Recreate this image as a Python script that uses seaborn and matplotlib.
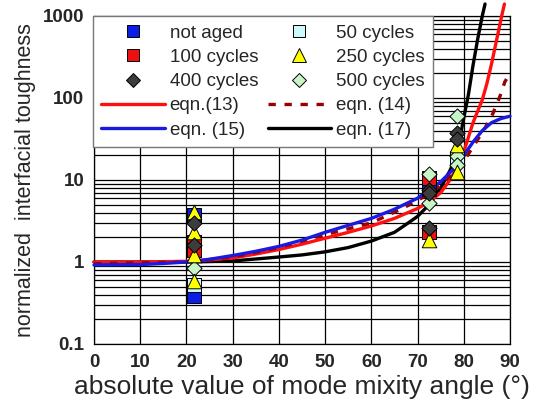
import matplotlib
matplotlib.use("Agg")
import matplotlib.pyplot as plt
from matplotlib.lines import Line2D
from matplotlib.ticker import LogLocator, FixedLocator, NullFormatter
import seaborn as sns

# Measured toughness, grouped by ageing condition
psi_not_aged = [21.7, 21.7, 72.5]
g_not_aged = [0.38, 3.7, 7.8]

psi_50 = [21.7, 78.6]
g_50 = [0.53, 18.5]

psi_100 = [21.7, 21.7, 72.5, 72.5]
g_100 = [1.77, 1.40, 10.5, 2.34]

psi_250 = [21.7, 21.7, 21.7, 21.7, 72.5, 78.6, 78.6]
g_250 = [4.1, 2.34, 1.22, 0.58, 1.85, 12.6, 27.0]

psi_400 = [21.7, 21.7, 72.5, 72.5, 72.5, 78.6, 78.6]
g_400 = [3.0, 1.61, 7.6, 6.9, 2.57, 37.7, 32.0]

psi_500 = [21.7, 72.5, 72.5, 78.6, 78.6, 78.6]
g_500 = [0.84, 11.7, 5.2, 60.0, 19.8, 15.2]

# Model curves
psi_eq13 = [0, 10, 20, 25, 30, 35, 40, 45, 50, 55, 60, 65, 70, 72.5, 75, 77,
            78.5, 80, 82, 84, 85, 86, 86.8, 87.5, 88.2, 88.8]
g_eq13 = [1.0, 1.0, 1.02, 1.06, 1.12, 1.25, 1.42, 1.65, 1.95, 2.3, 2.75, 3.4,
          4.5, 5.4, 7.0, 10.0, 14.0, 22.0, 50.0, 95.0, 150.0, 260.0, 424.0,
          650.0, 1000.0, 1400.0]

psi_eq14 = [0, 20, 30, 40, 50, 60, 66, 70, 75, 80, 84, 86, 87.8, 88.9, 90]
g_eq14 = [0.95, 1.0, 1.15, 1.5, 2.15, 3.0, 4.3, 5.6, 8.5, 17.0, 38.0, 59.0,
          104.0, 158.0, 200.0]

psi_eq15 = [0, 10, 15, 20, 25, 30, 35, 40, 45, 50, 55, 60, 65, 70, 72.5, 75,
            78, 80, 82, 84, 86, 88, 90]
g_eq15 = [0.92, 0.93, 0.96, 1.0, 1.08, 1.2, 1.35, 1.55, 1.85, 2.3, 2.8, 3.4,
          4.4, 6.0, 7.6, 9.5, 14.0, 20.0, 29.0, 40.0, 50.0, 56.0, 60.0]

psi_eq17 = [0, 10, 20, 30, 40, 45, 50, 55, 60, 65, 68, 70, 72.5, 75, 77, 78.5,
            79.8, 81, 82, 83, 84, 84.6]
g_eq17 = [1.0, 1.0, 1.0, 1.03, 1.15, 1.22, 1.33, 1.5, 1.8, 2.3, 3.0, 3.6, 5.0,
          8.0, 13.0, 20.0, 50.0, 110.0, 250.0, 520.0, 1000.0, 1400.0]

x_ticks = [0, 10, 20, 30, 40, 50, 60, 70, 80, 90]
y_ticks = [0.1, 1, 10, 100, 1000]
y_tick_labels = ["0.1", "1", "10", "100", "1000"]

sns.set_theme(style="white")
plt.rcParams["font.family"] = ["Liberation Sans", "DejaVu Sans"]

fig = plt.figure(figsize=(5.43, 4.20), dpi=100)
ax = fig.add_axes([94 / 543, 1 - 344 / 420, (510 - 94) / 543, (344 - 16) / 420])

ax.set_yscale("log")
ax.set_xlim(0, 90)
ax.set_ylim(0.1, 1000)

# grid: every 10 degrees, every minor log step
ax.xaxis.set_major_locator(FixedLocator(x_ticks))
ax.yaxis.set_major_locator(FixedLocator(y_ticks))
ax.yaxis.set_minor_locator(LogLocator(base=10, subs=range(2, 10), numticks=20))
ax.yaxis.set_minor_formatter(NullFormatter())
ax.set_xticklabels([str(t) for t in x_ticks])
ax.set_yticklabels(y_tick_labels)
ax.grid(True, which="major", axis="x", color="black", linewidth=0.9)
ax.grid(True, which="both", axis="y", color="black", linewidth=0.9)
ax.set_axisbelow(True)

ax.tick_params(axis="both", which="major", direction="out", length=5,
               width=0.9, color="black", labelsize=13.5, pad=2)
ax.tick_params(axis="y", which="minor", length=0)
for lab in ax.get_xticklabels() + ax.get_yticklabels():
    lab.set_fontweight("bold")
for sp in ax.spines.values():
    sp.set_color("black")
    sp.set_linewidth(0.9)

# model curves
line_kw = dict(linewidth=2.4, clip_on=False, zorder=3, ax=ax, legend=False)
sns.lineplot(x=psi_eq17, y=g_eq17, color="black", **line_kw)
sns.lineplot(x=psi_eq13, y=g_eq13, color="#ff1010", **line_kw)
sns.lineplot(x=psi_eq14, y=g_eq14, color="#9a0000", linestyle=(0, (2.2, 2.6)),
             **line_kw)
sns.lineplot(x=psi_eq15, y=g_eq15, color="#1a1ae0", **line_kw)

# measured points
pt_kw = dict(edgecolor="black", linewidth=0.7, zorder=5, ax=ax, legend=False)
sns.scatterplot(x=psi_not_aged, y=g_not_aged, marker="s", s=110,
                color="#0a1ee6", **pt_kw)
sns.scatterplot(x=psi_50, y=g_50, marker="s", s=110, color="#ccfafa", **pt_kw)
sns.scatterplot(x=psi_100, y=g_100, marker="s", s=110, color="#ee1010", **pt_kw)
sns.scatterplot(x=psi_500, y=g_500, marker="D", s=60, color="#c8f5c8", **pt_kw)
sns.scatterplot(x=psi_250, y=g_250, marker="^", s=110, color="#ffff00", **pt_kw)
sns.scatterplot(x=psi_400, y=g_400, marker="D", s=60, color="#3c3c3c", **pt_kw)

ax.set_xlabel("absolute value of mode mixity angle (°)", fontsize=19, labelpad=3)
ax.set_ylabel("normalized  interfacial toughness", fontsize=15.5, labelpad=5)

def mk(marker, face, ms):
    return Line2D([], [], linestyle="none", marker=marker, markersize=ms,
                  markerfacecolor=face, markeredgecolor="black",
                  markeredgewidth=0.7)

handles = [
    mk("s", "#0a1ee6", 9), mk("s", "#ee1010", 9), mk("D", "#3c3c3c", 7),
    Line2D([], [], color="#ff1010", linewidth=2.4),
    Line2D([], [], color="#1a1ae0", linewidth=2.4),
    mk("s", "#ccfafa", 9), mk("^", "#ffff00", 9.5), mk("D", "#c8f5c8", 7),
    Line2D([], [], color="#9a0000", linewidth=2.4, linestyle=(0, (2.2, 2.6))),
    Line2D([], [], color="black", linewidth=2.4),
]
labels = ["not aged", "100 cycles", "400 cycles", "eqn.(13)", "eqn. (15)",
          "50 cycles", "250 cycles", "500 cycles", "eqn. (14)", "eqn. (17)"]
leg = ax.legend(handles, labels, ncol=2, loc="upper left",
                bbox_to_anchor=(-0.003, 1.0), borderaxespad=0, fontsize=13.5,
                handlelength=3.4, handletextpad=0.25, columnspacing=0.5,
                labelspacing=0.38, borderpad=0.45, frameon=True, fancybox=False,
                framealpha=1, edgecolor="#777777")
leg.get_frame().set_linewidth(1.0)
leg.set_zorder(10)

fig.savefig("out.png", dpi=100)
